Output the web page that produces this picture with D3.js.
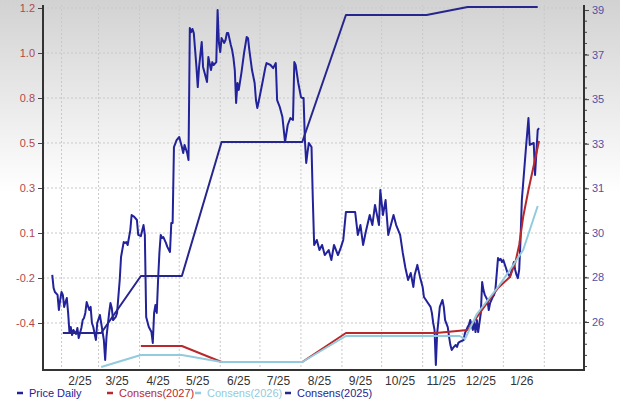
<!DOCTYPE html>
<html>
<head>
<meta charset="utf-8">
<script src="https://cdn.jsdelivr.net/npm/d3@7"></script>
<style>
  body { margin: 0; background: #fff; }
  svg { display: block; font-family: "Liberation Sans", Arial, sans-serif; }
</style>
</head>
<body>
<div id="chart"></div>
<script>
// ---- data ----
const priceDates = [
  "2025-01-25","2025-01-26","2025-01-27","2025-01-29","2025-01-30","2025-01-31","2025-02-01","2025-02-02","2025-02-03","2025-02-04",
  "2025-02-05","2025-02-06","2025-02-07","2025-02-08","2025-02-09","2025-02-10","2025-02-12","2025-02-13","2025-02-14","2025-02-16",
  "2025-02-17","2025-02-18","2025-02-19","2025-02-20","2025-02-22","2025-02-23","2025-02-24","2025-02-25","2025-02-27","2025-02-28",
  "2025-03-02","2025-03-03","2025-03-05","2025-03-06","2025-03-07","2025-03-09","2025-03-10","2025-03-11","2025-03-12","2025-03-14",
  "2025-03-15","2025-03-17","2025-03-18","2025-03-20","2025-03-21","2025-03-22","2025-03-23","2025-03-25","2025-03-26","2025-03-28",
  "2025-03-30","2025-03-31","2025-04-02","2025-04-04","2025-04-05","2025-04-06","2025-04-08","2025-04-10","2025-04-11","2025-04-12",
  "2025-04-13","2025-04-14","2025-04-15","2025-04-16","2025-04-17","2025-04-18","2025-04-19","2025-04-21","2025-04-22","2025-04-24",
  "2025-04-25","2025-04-26","2025-04-27","2025-04-29","2025-05-01","2025-05-03","2025-05-04","2025-05-05","2025-05-07","2025-05-08",
  "2025-05-09","2025-05-10","2025-05-11","2025-05-12","2025-05-14","2025-05-15","2025-05-16","2025-05-18","2025-05-19","2025-05-21",
  "2025-05-22","2025-05-23","2025-05-25","2025-05-26","2025-05-27","2025-05-29","2025-05-30","2025-05-31","2025-06-01","2025-06-02",
  "2025-06-04","2025-06-05","2025-06-06","2025-06-07","2025-06-09","2025-06-10","2025-06-11","2025-06-12","2025-06-13","2025-06-14",
  "2025-06-15","2025-06-17","2025-06-19","2025-06-21","2025-06-22","2025-06-23","2025-06-25","2025-06-27","2025-06-28","2025-06-29",
  "2025-06-30","2025-07-03","2025-07-05","2025-07-06","2025-07-09","2025-07-11","2025-07-13","2025-07-14","2025-07-16","2025-07-18",
  "2025-07-20","2025-07-22","2025-07-24","2025-07-26","2025-07-27","2025-07-28","2025-07-30","2025-08-01","2025-08-02","2025-08-03",
  "2025-08-04","2025-08-05","2025-08-06","2025-08-07","2025-08-09","2025-08-10","2025-08-11","2025-08-13","2025-08-15","2025-08-17",
  "2025-08-19","2025-08-22","2025-08-24","2025-08-26","2025-08-29","2025-08-31","2025-09-02","2025-09-04","2025-09-07","2025-09-11",
  "2025-09-13","2025-09-15","2025-09-17","2025-09-19","2025-09-22","2025-09-24","2025-09-26","2025-09-29","2025-09-30","2025-10-02",
  "2025-10-04","2025-10-06","2025-10-08","2025-10-10","2025-10-12","2025-10-15","2025-10-17","2025-10-19","2025-10-21","2025-10-23",
  "2025-10-25","2025-10-26","2025-10-28","2025-10-30","2025-11-01","2025-11-02","2025-11-05","2025-11-07","2025-11-08","2025-11-09",
  "2025-11-10","2025-11-11","2025-11-12","2025-11-13","2025-11-14","2025-11-16","2025-11-17","2025-11-18","2025-11-20","2025-11-21",
  "2025-11-22","2025-11-23","2025-11-24","2025-11-26","2025-11-27","2025-11-28","2025-11-29","2025-12-02","2025-12-03","2025-12-05",
  "2025-12-06","2025-12-07","2025-12-09","2025-12-10","2025-12-11","2025-12-12","2025-12-13","2025-12-15","2025-12-16","2025-12-17",
  "2025-12-18","2025-12-20","2025-12-21","2025-12-22","2025-12-24","2025-12-25","2025-12-26","2025-12-28","2025-12-29","2025-12-30",
  "2025-12-31","2026-01-01","2026-01-03","2026-01-04","2026-01-06","2026-01-08","2026-01-09","2026-01-10","2026-01-11","2026-01-12",
  "2026-01-13","2026-01-14","2026-01-15","2026-01-18","2026-01-20","2026-01-21","2026-01-24","2026-01-25","2026-01-27","2026-01-28"
];
const priceValues = [
  27.96,27.42,27.25,27.13,26.5,26.92,27.25,27.13,26.63,26.83,
  27.0,26.38,25.58,25.79,25.46,25.67,25.5,25.75,25.33,25.75,
  26.08,26.17,26.38,26.83,26.5,26.63,25.96,25.79,25.25,25.96,
  26.29,25.96,25.25,24.42,25.38,26.38,26.79,26.58,26.08,26.21,
  26.38,27.75,28.71,29.33,29.29,29.33,29.21,29.83,30.46,30.38,
  30.25,29.63,29.58,30.04,29.63,26.21,25.79,25.58,25.13,26.38,
  26.71,26.38,27.75,28.88,29.63,29.5,29.54,29.29,29.13,28.92,
  30.13,30.13,33.29,33.58,33.71,33.29,33.04,33.38,33.04,32.75,
  38.25,38.08,38.21,38.04,36.63,35.79,36.63,37.67,36.63,36.21,
  36.0,37.04,36.5,36.83,36.71,36.83,39.0,37.63,37.25,37.83,
  37.63,37.75,38.04,38.04,37.54,37.33,37.0,36.5,35.13,35.96,
  35.67,36.38,37.21,37.88,37.83,37.33,36.5,35.96,35.25,34.92,
  35.17,36.0,36.58,36.79,36.71,36.58,36.79,35.25,34.96,34.54,
  33.5,34.21,34.5,34.42,36.83,36.71,35.96,35.38,35.33,35.33,
  33.58,32.63,33.08,33.46,33.29,31.08,29.21,29.42,29.0,29.21,
  28.79,29.0,28.58,29.21,28.79,29.08,29.42,30.58,30.58,30.58,
  29.63,30.04,29.21,29.75,30.46,30.04,30.88,30.04,31.5,30.46,
  31.08,29.63,30.04,30.46,30.04,29.63,28.88,28.25,27.75,28.04,
  27.46,27.96,28.38,27.88,27.46,27.04,26.79,26.63,26.38,25.96,
  25.67,24.21,25.54,26.08,26.63,26.92,26.63,26.08,25.79,25.38,
  25.04,24.83,24.92,25.04,24.96,25.13,25.17,25.25,25.54,25.79,
  25.88,26.08,25.67,25.96,25.58,26.08,25.58,26.38,27.67,27.33,
  27.13,26.92,26.5,26.79,27.04,27.13,27.33,28.67,28.58,28.63,
  28.5,28.58,28.25,28.08,27.88,28.29,28.5,28.17,27.96,27.83,
  28.17,29.42,31.08,33.17,34.5,33.38,33.46,32.13,34.0,34.08
];

const cons2027Dates = ["2025-04-02","2025-05-03","2025-06-02","2025-08-02","2025-09-04","2025-11-11","2025-12-05","2025-12-17","2025-12-28","2026-01-06","2026-01-10","2026-01-13","2026-01-16","2026-01-20","2026-01-28"];
const cons2027Values = [-0.49,-0.49,-0.57,-0.57,-0.425,-0.425,-0.41,-0.30,-0.20,-0.145,-0.075,0.015,0.155,0.29,0.535];

const cons2026Dates = ["2025-03-03","2025-04-02","2025-05-03","2025-06-02","2025-08-02","2025-09-04","2025-11-29","2025-12-03","2025-12-12","2025-12-28","2026-01-06","2026-01-16","2026-01-27"];
const cons2026Values = [-0.595,-0.535,-0.535,-0.57,-0.57,-0.44,-0.44,-0.455,-0.33,-0.195,-0.11,-0.01,0.21];

const cons2025Dates = ["2025-02-02","2025-03-03","2025-04-02","2025-05-03","2025-06-02","2025-08-02","2025-09-04","2025-11-04","2025-12-05","2026-01-27"];
const cons2025Values = [-0.425,-0.425,-0.14,-0.14,0.53,0.53,1.165,1.165,1.205,1.205];

const leftTicks = [1.2, 0.975, 0.75, 0.525, 0.3, 0.075, -0.15, -0.375];
const leftTickLabels = ["1.2","1.0","0.8","0.5","0.3","0.1","-0.2","-0.4"];
const rightTicks = [39, 37.143, 35.286, 33.429, 31.571, 29.714, 27.857, 26];
const rightTickLabels = ["39","37","35","33","31","30","28","26"];
const monthLabels = ["2/25","3/25","4/25","5/25","6/25","7/25","8/25","9/25","10/25","11/25","12/25","1/26"];

const seriesNames = ["Price Daily","Consens(2027)","Consens(2026)","Consens(2025)"];
const seriesColors = ["#22229a","#b8282c","#92cbdd","#26268c"];

// ---- layout ----
const width = 620, height = 402;
const margin = {top: 5, right: 36, bottom: 32, left: 43};
const parse = d3.timeParse("%Y-%m-%d");

const x = d3.scaleTime()
  .domain([parse("2025-01-18"), parse("2026-03-03")])
  .range([margin.left, width - margin.right]);
const yLeft = d3.scaleLinear().domain([-0.61, 1.215]).range([height - margin.bottom, margin.top]);
const yRight = d3.scaleLinear().domain([24, 39.21]).range([height - margin.bottom, margin.top]);

const svg = d3.select("#chart").append("svg")
  .attr("width", width).attr("height", height);

const grad = svg.append("defs").append("linearGradient")
  .attr("id", "bg").attr("x1", 0).attr("y1", 0).attr("x2", 0).attr("y2", 1);
grad.append("stop").attr("offset", "0%").attr("stop-color", "#d2d2d2");
grad.append("stop").attr("offset", "48%").attr("stop-color", "#ffffff");
grad.append("stop").attr("offset", "100%").attr("stop-color", "#ffffff");
svg.append("rect").attr("width", width).attr("height", height).attr("fill", "url(#bg)");

const plotBottom = height - margin.bottom;
const plotRight = width - margin.right;

// grid
const monthStarts = d3.timeMonth.range(parse("2025-02-01"), parse("2026-02-02"));
svg.append("g").selectAll("line").data(monthStarts).join("line")
  .attr("x1", d => x(d)).attr("x2", d => x(d))
  .attr("y1", margin.top).attr("y2", plotBottom)
  .attr("stroke", "#c9c9c9").attr("stroke-dasharray", "2,2");
svg.append("g").selectAll("line").data(leftTicks).join("line")
  .attr("x1", margin.left).attr("x2", plotRight)
  .attr("y1", d => yLeft(d)).attr("y2", d => yLeft(d))
  .attr("stroke", "#c9c9c9").attr("stroke-dasharray", "2,2");

// series
const lineLeft = d3.line().x(d => x(d[0])).y(d => yLeft(d[1]));
const lineRight = d3.line().x(d => x(d[0])).y(d => yRight(d[1]));
const zip = (ds, vs) => ds.map((d, i) => [parse(d), vs[i]]);

svg.append("path").datum(zip(priceDates, priceValues))
  .attr("d", lineRight).attr("fill", "none")
  .attr("stroke", seriesColors[0]).attr("stroke-width", 2).attr("stroke-linejoin", "round");
[[cons2027Dates, cons2027Values, 1], [cons2026Dates, cons2026Values, 2], [cons2025Dates, cons2025Values, 3]]
  .forEach(([ds, vs, k]) => {
    svg.append("path").datum(zip(ds, vs))
      .attr("d", lineLeft).attr("fill", "none")
      .attr("stroke", seriesColors[k]).attr("stroke-width", 2).attr("stroke-linejoin", "round");
  });

// axes
const leftAxis = svg.append("g").attr("transform", `translate(${margin.left},0)`)
  .call(d3.axisLeft(yLeft).tickValues(leftTicks).tickSize(5).tickPadding(3)
    .tickFormat((d, i) => leftTickLabels[i]));
leftAxis.select(".domain").remove();
leftAxis.selectAll("text").attr("fill", "#b04a4a").style("font-size", "11px");
leftAxis.selectAll("line").attr("stroke", "#444");

const minorStep = (rightTicks[0] - rightTicks[1]) / 4;
const minorTicks = d3.range(39 - minorStep, 24, -minorStep).filter(v => v > 24.1);
svg.append("g").attr("transform", `translate(${plotRight},0)`)
  .selectAll("line").data(minorTicks).join("line")
  .attr("x1", 0).attr("x2", 3)
  .attr("y1", d => yRight(d)).attr("y2", d => yRight(d))
  .attr("stroke", "#444");
const rightAxis = svg.append("g").attr("transform", `translate(${plotRight},0)`)
  .call(d3.axisRight(yRight).tickValues(rightTicks).tickSize(5).tickPadding(3)
    .tickFormat((d, i) => rightTickLabels[i]));
rightAxis.select(".domain").remove();
rightAxis.selectAll("text").attr("fill", "#5252a6").style("font-size", "11px");
rightAxis.selectAll("line").attr("stroke", "#444");

// frame lines
svg.append("path")
  .attr("d", `M${margin.left},${margin.top}V${plotBottom}H${plotRight}V${margin.top}`)
  .attr("fill", "none").attr("stroke", "#333").attr("stroke-width", 2);

// month labels at mid-month
const monthParse = d3.timeParse("%m/%y");
svg.append("g").selectAll("text").data(monthLabels).join("text")
  .attr("x", d => x(d3.timeDay.offset(monthParse(d), 14)))
  .attr("y", plotBottom + 15)
  .attr("text-anchor", "middle")
  .attr("fill", "#333").style("font-size", "12px")
  .text(d => d);

// legend
const legendX = [17, 107, 195, 285];
const lg = svg.append("g").attr("transform", `translate(0,${height - 9})`);
seriesNames.forEach((name, i) => {
  lg.append("line").attr("x1", legendX[i]).attr("x2", legendX[i] + 6)
    .attr("y1", 0).attr("y2", 0)
    .attr("stroke", seriesColors[i]).attr("stroke-width", 2.5);
  lg.append("text").attr("x", legendX[i] + 12).attr("y", 4)
    .attr("fill", seriesColors[i]).style("font-size", "11px")
    .text(name);
});
</script>
</body>
</html>
